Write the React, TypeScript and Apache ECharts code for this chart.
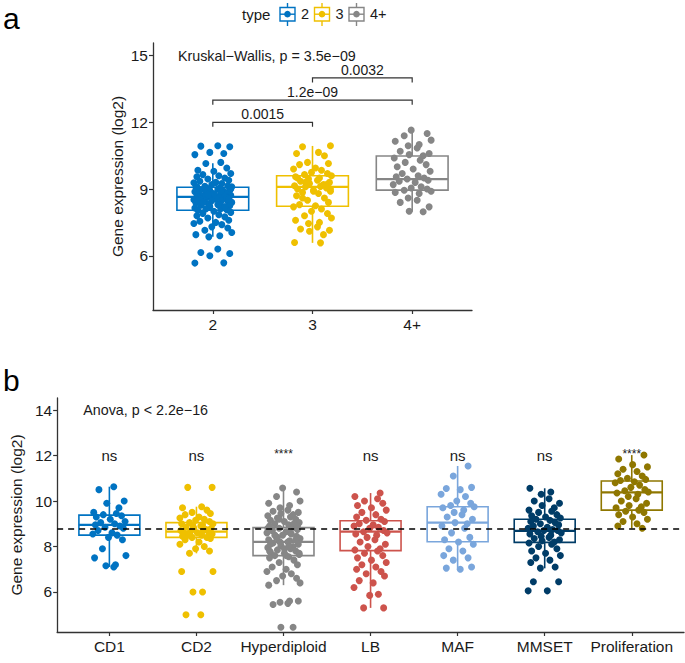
import React, { useEffect, useRef } from "react";
import * as echarts from "echarts";

const FONT = '"Liberation Sans", Arial, sans-serif';
const PALETTE = ["#0073C2", "#EFC000", "#868686", "#CD534C", "#7AA6DC", "#003C67", "#8F7700"];

// ---------- panel a ----------
const typeCategories = ["2", "3", "4+"];
const type2Values = [10.95, 10.93, 10.9, 10.65, 10.6, 10.55, 10.2, 10.15, 9.95, 9.85, 9.8, 9.7, 9.65, 9.6, 9.55, 9.5, 9.45, 9.4, 9.35, 9.3, 9.28, 9.25, 9.2, 9.15, 9.12, 9.1, 9.08, 9.05, 9.02, 9.0, 8.98, 8.95, 8.93, 8.9, 8.88, 8.85, 8.83, 8.8, 8.78, 8.75, 8.72, 8.7, 8.68, 8.66, 8.65, 8.63, 8.6, 8.58, 8.55, 8.52, 8.5, 8.48, 8.45, 8.42, 8.4, 8.38, 8.35, 8.32, 8.3, 8.27, 8.25, 8.22, 8.2, 8.15, 8.12, 8.1, 8.07, 8.05, 8.0, 7.95, 7.9, 7.85, 7.8, 7.75, 7.7, 7.6, 7.55, 7.5, 7.45, 7.4, 7.3, 7.25, 7.15, 7.05, 6.95, 6.9, 6.85, 6.3, 6.15, 6.1, 6.0, 5.68, 5.67, 8.9, 8.7, 8.6, 8.5, 8.8, 9.0, 8.4, 8.3, 9.1, 8.2, 8.75, 8.55];
const type3Values = [10.95, 10.9, 10.65, 10.6, 10.5, 10.2, 10.15, 10.1, 9.95, 9.9, 9.85, 9.75, 9.7, 9.65, 9.6, 9.55, 9.5, 9.45, 9.4, 9.35, 9.3, 9.25, 9.2, 9.15, 9.12, 9.1, 9.05, 9.0, 8.95, 8.9, 8.85, 8.8, 8.7, 8.6, 8.5, 8.4, 8.3, 8.25, 8.2, 8.1, 8.0, 7.9, 7.8, 7.7, 7.6, 7.5, 7.45, 7.3, 7.2, 7.15, 7.1, 6.95, 6.6, 6.58, 9.3, 9.2, 9.5, 8.9, 9.0, 8.6];
const type4Values = [11.65, 11.5, 11.4, 11.2, 11.15, 11.0, 10.95, 10.85, 10.7, 10.6, 10.55, 10.5, 10.4, 10.3, 10.2, 10.1, 10.0, 9.9, 9.8, 9.7, 9.6, 9.55, 9.5, 9.45, 9.4, 9.35, 9.3, 9.2, 9.1, 9.05, 9.0, 8.95, 8.9, 8.85, 8.8, 8.6, 8.5, 8.4, 8.2, 8.0, 7.98];
// [lower whisker, Q1, median, Q3, upper whisker]
const typeBoxStats = [
  [6.85, 8.05, 8.65, 9.08, 10.16],
  [6.58, 8.23, 9.1, 9.6, 10.94],
  [7.98, 8.95, 9.45, 10.49, 11.66],
];
const typeComparisons: [number, number, number, string][] = [
  [1, 2, 12.0, "0.0015"],
  [1, 3, 13.0, "1.2e\u221209"],
  [2, 3, 14.0, "0.0032"],
];
const kruskalLabel = "Kruskal\u2212Wallis, p = 3.5e\u221209";
const typeTicks = [6, 9, 12, 15];

// ---------- panel b ----------
const subtypeCategories = ["CD1", "CD2", "Hyperdiploid", "LB", "MAF", "MMSET", "Proliferation"];
const cd1Values = [10.63, 10.5, 10.0, 9.9, 9.7, 9.5, 9.45, 9.4, 9.35, 9.3, 9.2, 9.1, 9.05, 9.0, 8.95, 8.9, 8.85, 8.8, 8.7, 8.6, 8.55, 8.5, 8.4, 8.3, 7.9, 7.6, 7.5, 7.2, 7.15, 7.1];
const cd2Values = [10.6, 10.6, 9.75, 9.7, 9.6, 9.5, 9.45, 9.4, 9.3, 9.25, 9.2, 9.15, 9.1, 9.05, 9.0, 9.0, 8.95, 8.9, 8.9, 8.85, 8.8, 8.8, 8.75, 8.7, 8.7, 8.65, 8.65, 8.6, 8.6, 8.55, 8.5, 8.5, 8.45, 8.4, 8.4, 8.35, 8.3, 8.2, 8.1, 8.0, 7.9, 7.8, 7.7, 6.9, 6.9, 6.0, 6.0, 5.0, 5.0];
const hyperdiploidValues = [10.57, 10.4, 10.2, 10.0, 9.9, 9.8, 9.7, 9.6, 9.55, 9.5, 9.45, 9.4, 9.35, 9.3, 9.25, 9.2, 9.15, 9.1, 9.05, 9.0, 8.95, 8.9, 8.85, 8.8, 8.75, 8.7, 8.65, 8.6, 8.55, 8.5, 8.45, 8.4, 8.35, 8.3, 8.25, 8.2, 8.2, 8.15, 8.1, 8.05, 8.0, 7.95, 7.9, 7.85, 7.8, 7.75, 7.7, 7.65, 7.6, 7.55, 7.5, 7.4, 7.3, 7.2, 7.1, 7.0, 6.9, 6.8, 6.7, 6.6, 6.5, 6.4, 6.3, 5.6, 5.55, 5.5, 5.45, 5.6, 4.45, 4.45, 8.8, 8.6, 8.4, 8.3, 8.1, 7.9, 7.7, 8.5, 8.0, 7.8, 9.0, 9.2, 8.9, 8.7, 7.6];
const lbValues = [10.35, 10.2, 10.1, 10.0, 9.9, 9.8, 9.7, 9.6, 9.5, 9.4, 9.3, 9.2, 9.15, 9.1, 9.0, 8.95, 8.9, 8.85, 8.8, 8.7, 8.65, 8.6, 8.55, 8.5, 8.4, 8.3, 8.2, 8.1, 8.0, 7.9, 7.85, 7.8, 7.7, 7.6, 7.5, 7.4, 7.3, 7.2, 7.1, 7.0, 6.9, 6.8, 6.7, 6.5, 6.4, 6.2, 5.9, 5.85, 5.3, 5.3];
const mafValues = [11.54, 11.1, 10.6, 10.55, 10.5, 10.3, 10.2, 10.0, 9.9, 9.8, 9.75, 9.7, 9.6, 9.5, 9.4, 9.3, 9.2, 9.05, 9.0, 8.9, 8.8, 8.6, 8.4, 8.3, 8.2, 8.1, 7.9, 7.8, 7.6, 7.5, 7.4, 7.1, 7.05, 7.0];
const mmsetValues = [10.56, 10.4, 10.3, 10.1, 10.0, 9.9, 9.8, 9.7, 9.6, 9.55, 9.5, 9.4, 9.35, 9.3, 9.25, 9.2, 9.15, 9.1, 9.05, 9.0, 8.95, 8.9, 8.85, 8.8, 8.75, 8.7, 8.7, 8.65, 8.6, 8.55, 8.5, 8.45, 8.4, 8.35, 8.3, 8.25, 8.2, 8.15, 8.1, 8.0, 7.9, 7.8, 7.7, 7.6, 7.5, 7.4, 7.3, 7.1, 7.05, 6.45, 6.45, 6.05, 6.05];
const proliferationValues = [12.02, 11.85, 11.6, 11.5, 11.4, 11.3, 11.2, 11.1, 11.0, 10.95, 10.9, 10.85, 10.8, 10.7, 10.6, 10.5, 10.45, 10.4, 10.35, 10.3, 10.2, 10.1, 10.0, 9.9, 9.8, 9.75, 9.7, 9.6, 9.55, 9.5, 9.4, 9.3, 9.2, 9.1, 9.0, 8.9, 8.8];
const subtypeBoxStats = [
  [7.1, 8.5, 8.95, 9.38, 10.63],
  [7.7, 8.4, 8.65, 9.05, 9.75],
  [6.3, 7.6, 8.2, 8.83, 10.57],
  [5.3, 7.82, 8.65, 9.13, 10.35],
  [6.97, 8.21, 9.05, 9.75, 11.54],
  [7.04, 8.18, 8.69, 9.2, 10.56],
  [8.8, 9.6, 10.38, 10.88, 12.02],
];
const subtypeSignif = ["ns", "ns", "****", "ns", "ns", "ns", "****"];
const anovaLabel = "Anova, p < 2.2e\u221216";
const referenceLevel = 8.8;
const subtypeTicks = [6, 8, 10, 12, 14];

// hand-picked jitter offsets (category units)
const JITTER = [0.05, -0.12, 0.17, -0.03, 0.11, -0.18, 0.08, -0.07, 0.14, -0.15, 0.01, 0.18, -0.1, 0.06, -0.16, 0.12, -0.05, 0.16, -0.13, 0.03, -0.19, 0.09, -0.01, 0.15, -0.08, 0.19, -0.17, 0.07, -0.04];

const AXIS_COLOR = "#333";
const TEXT_COLOR = "#1a1a1a";
const TICK_FONT = 15.5;
const NOTE_FONT = 14.3;

function boxRenderer(stats: number[][], colors: string[], halfW: number) {
  return (params: any, api: any) => {
    const i = params.dataIndex;
    const [mn, q1, md, q3, mx] = stats[i];
    const x = i + 1;
    const c = colors[i];
    const top = api.coord([x, mx]);
    const bot = api.coord([x, mn]);
    const a = api.coord([x - halfW, q3]);
    const b = api.coord([x + halfW, q1]);
    const m = api.coord([x, md]);
    const lw = 1.6;
    return {
      type: "group",
      children: [
        { type: "line", shape: { x1: top[0], y1: top[1], x2: top[0], y2: a[1] }, style: { stroke: c, lineWidth: lw } },
        { type: "line", shape: { x1: bot[0], y1: b[1], x2: bot[0], y2: bot[1] }, style: { stroke: c, lineWidth: lw } },
        { type: "rect", shape: { x: a[0], y: a[1], width: b[0] - a[0], height: b[1] - a[1] }, style: { fill: "#fff", stroke: c, lineWidth: lw } },
        { type: "line", shape: { x1: a[0], y1: m[1], x2: b[0], y2: m[1] }, style: { stroke: c, lineWidth: 2.2 } },
      ],
    };
  };
}

function jittered(values: number[], g: number, scale: number) {
  return values.map((v, i) => [g + 1 + JITTER[(i + g * 11) % JITTER.length] * scale, v]);
}

function yAxisCfg(grid: number, min: number, max: number, ticks: number[], nameGap: number) {
  return {
    type: "value",
    gridIndex: grid,
    min,
    max,
    name: "Gene expression (log2)",
    nameLocation: "middle",
    nameGap,
    nameTextStyle: { fontFamily: FONT, fontSize: 15.5, color: TEXT_COLOR },
    axisLine: { show: true, onZero: false, lineStyle: { color: AXIS_COLOR, width: 1.3 } },
    axisTick: { show: true, length: 4, customValues: ticks, lineStyle: { color: AXIS_COLOR, width: 1.2 } },
    axisLabel: { customValues: ticks, fontFamily: FONT, fontSize: TICK_FONT, color: TEXT_COLOR, margin: 5 },
    splitLine: { show: false },
  };
}

function xAxisCfg(grid: number, cats: string[]) {
  const ticks = cats.map((_, i) => i + 1);
  return {
    type: "value",
    gridIndex: grid,
    min: 0.4,
    max: cats.length + 0.6,
    axisLine: { show: true, onZero: false, lineStyle: { color: AXIS_COLOR, width: 1.3 } },
    axisTick: { show: true, length: 4, customValues: ticks, lineStyle: { color: AXIS_COLOR, width: 1.2 } },
    axisLabel: {
      customValues: ticks,
      fontFamily: FONT,
      fontSize: TICK_FONT,
      color: TEXT_COLOR,
      margin: 6,
      formatter: (v: number) => cats[Math.round(v) - 1] ?? "",
    },
    splitLine: { show: false },
  };
}

export default function App() {
  const ref = useRef<HTMLDivElement>(null);
  useEffect(() => {
    if (!ref.current) return;
    const chart = echarts.init(ref.current, undefined, { renderer: "svg" });

    const typeGroups = [type2Values, type3Values, type4Values];
    const subtypeGroups = [cd1Values, cd2Values, hyperdiploidValues, lbValues, mafValues, mmsetValues, proliferationValues];

    const series: any[] = [];
    // panel a boxes
    series.push({
      type: "custom",
      xAxisIndex: 0,
      yAxisIndex: 0,
      renderItem: boxRenderer(typeBoxStats, PALETTE.slice(0, 3), 0.36),
      data: typeBoxStats.map((s, i) => [i + 1, ...s]),
      encode: { x: 0, y: [1, 5] },
      z: 2,
      silent: true,
    });
    typeGroups.forEach((vals, g) => {
      series.push({
        type: "scatter",
        xAxisIndex: 0,
        yAxisIndex: 0,
        data: jittered(vals, g, 1.0),
        symbolSize: 7,
        itemStyle: { color: PALETTE[g], opacity: 1 },
        z: 3,
        silent: true,
      });
    });
    // brackets
    series.push({
      type: "custom",
      xAxisIndex: 0,
      yAxisIndex: 0,
      data: typeComparisons.map((c) => [c[0], c[1], c[2]]),
      encode: { x: [0, 1], y: 2 },
      z: 4,
      silent: true,
      renderItem: (params: any, api: any) => {
        const c = typeComparisons[params.dataIndex];
        const p1 = api.coord([c[0], c[2]]);
        const p2 = api.coord([c[1], c[2]]);
        return {
          type: "group",
          children: [
            {
              type: "polyline",
              shape: { points: [[p1[0], p1[1] + 4.5], [p1[0], p1[1]], [p2[0], p2[1]], [p2[0], p2[1] + 4.5]] },
              style: { stroke: "#333", lineWidth: 1.2, fill: "none" },
            },
            {
              type: "text",
              x: (p1[0] + p2[0]) / 2,
              y: p1[1] - 8,
              style: { text: c[3], fill: TEXT_COLOR, font: `14px ${FONT}`, textAlign: "center", textVerticalAlign: "middle", align: "center", verticalAlign: "middle" },
            },
          ],
        };
      },
    });
    // kruskal label
    series.push({
      type: "custom",
      xAxisIndex: 0,
      yAxisIndex: 0,
      data: [[0.65, 15]],
      silent: true,
      z: 4,
      renderItem: (params: any, api: any) => {
        const p = api.coord([api.value(0), api.value(1)]);
        return {
          type: "text",
          x: p[0],
          y: p[1],
          style: { text: kruskalLabel, fill: TEXT_COLOR, font: `${NOTE_FONT}px ${FONT}`, textAlign: "left", textVerticalAlign: "middle", align: "left", verticalAlign: "middle" },
        };
      },
    });

    // panel b boxes
    series.push({
      type: "custom",
      xAxisIndex: 1,
      yAxisIndex: 1,
      renderItem: boxRenderer(subtypeBoxStats, PALETTE, 0.35),
      data: subtypeBoxStats.map((s, i) => [i + 1, ...s]),
      encode: { x: 0, y: [1, 5] },
      z: 2,
      silent: true,
    });
    subtypeGroups.forEach((vals, g) => {
      series.push({
        type: "scatter",
        xAxisIndex: 1,
        yAxisIndex: 1,
        data: jittered(vals, g, 1.0),
        symbolSize: 7,
        itemStyle: { color: PALETTE[g], opacity: 1 },
        z: 3,
        silent: true,
      });
    });
    series.push({
      type: "line",
      xAxisIndex: 1,
      yAxisIndex: 1,
      data: [],
      z: 6,
      silent: true,
      markLine: {
        silent: true,
        symbol: "none",
        label: { show: false },
        lineStyle: { color: "#000", width: 1.5, type: [6, 5] },
        data: [{ yAxis: referenceLevel }],
        animation: false,
      },
    });
    // significance labels
    series.push({
      type: "custom",
      xAxisIndex: 1,
      yAxisIndex: 1,
      data: subtypeSignif.map((_, i) => [i + 1, 12]),
      silent: true,
      z: 4,
      renderItem: (params: any, api: any) => {
        const lab = subtypeSignif[params.dataIndex];
        const p = api.coord([api.value(0), api.value(1)]);
        const stars = lab.startsWith("*");
        return {
          type: "text",
          x: p[0],
          y: stars ? p[1] - 2 : p[1],
          style: {
            text: lab,
            fill: TEXT_COLOR,
            font: `${stars ? 12 : 15}px ${FONT}`,
            textAlign: "center",
            textVerticalAlign: "middle",
            align: "center",
            verticalAlign: "middle",
          },
        };
      },
    });
    series.push({
      type: "custom",
      xAxisIndex: 1,
      yAxisIndex: 1,
      data: [[0.7, 14]],
      silent: true,
      z: 4,
      renderItem: (params: any, api: any) => {
        const p = api.coord([api.value(0), api.value(1)]);
        return {
          type: "text",
          x: p[0],
          y: p[1],
          style: { text: anovaLabel, fill: TEXT_COLOR, font: `${NOTE_FONT}px ${FONT}`, textAlign: "left", textVerticalAlign: "middle", align: "left", verticalAlign: "middle" },
        };
      },
    });

    // legend graphic
    const legendKeys = [279, 313.5, 348];
    const legendLabelX = [301, 335.5, 370];
    const legendChildren: any[] = [
      { type: "text", x: 242, y: 14, style: { text: "type", fill: TEXT_COLOR, font: `15px ${FONT}`, textVerticalAlign: "middle", verticalAlign: "middle" } },
    ];
    typeCategories.forEach((cat, i) => {
      const x0 = legendKeys[i];
      const c = PALETTE[i];
      legendChildren.push(
        { type: "line", shape: { x1: x0 + 8.5, y1: 3, x2: x0 + 8.5, y2: 26 }, style: { stroke: c, lineWidth: 1.4 } },
        { type: "rect", shape: { x: x0 + 1, y: 7.5, width: 15, height: 13.5 }, style: { fill: "#fff", stroke: c, lineWidth: 1.4 } },
        { type: "line", shape: { x1: x0 + 1, y1: 14.2, x2: x0 + 16, y2: 14.2 }, style: { stroke: c, lineWidth: 1.4 } },
        { type: "circle", shape: { cx: x0 + 8.5, cy: 14.2, r: 3.3 }, style: { fill: c } },
        { type: "text", x: legendLabelX[i], y: 14, style: { text: cat, fill: TEXT_COLOR, font: `14.5px ${FONT}`, textVerticalAlign: "middle", verticalAlign: "middle" } }
      );
    });

    chart.setOption({
      animation: false,
      backgroundColor: "#fff",
      grid: [
        { left: 153, right: 213, top: 43, bottom: 353, containLabel: false },
        { left: 48, right: 1, top: 398, bottom: 31, containLabel: false },
      ],
      xAxis: [xAxisCfg(0, typeCategories), xAxisCfg(1, subtypeCategories)],
      yAxis: [yAxisCfg(0, 3.56, 15.57, typeTicks, 28), yAxisCfg(1, 4.24, 14.53, subtypeTicks, 30)],
      series,
      graphic: [
        { type: "text", left: 3, top: 3, style: { text: "a", fill: "#000", font: `30px ${FONT}` } },
        { type: "text", left: 3, top: 365, style: { text: "b", fill: "#000", font: `30px ${FONT}` } },
        { type: "group", children: legendChildren },
      ],
    });
    return () => chart.dispose();
  }, []);
  return <div ref={ref} style={{ position: "absolute", left: 0, top: 0, width: 685, height: 663 }} />;
}
